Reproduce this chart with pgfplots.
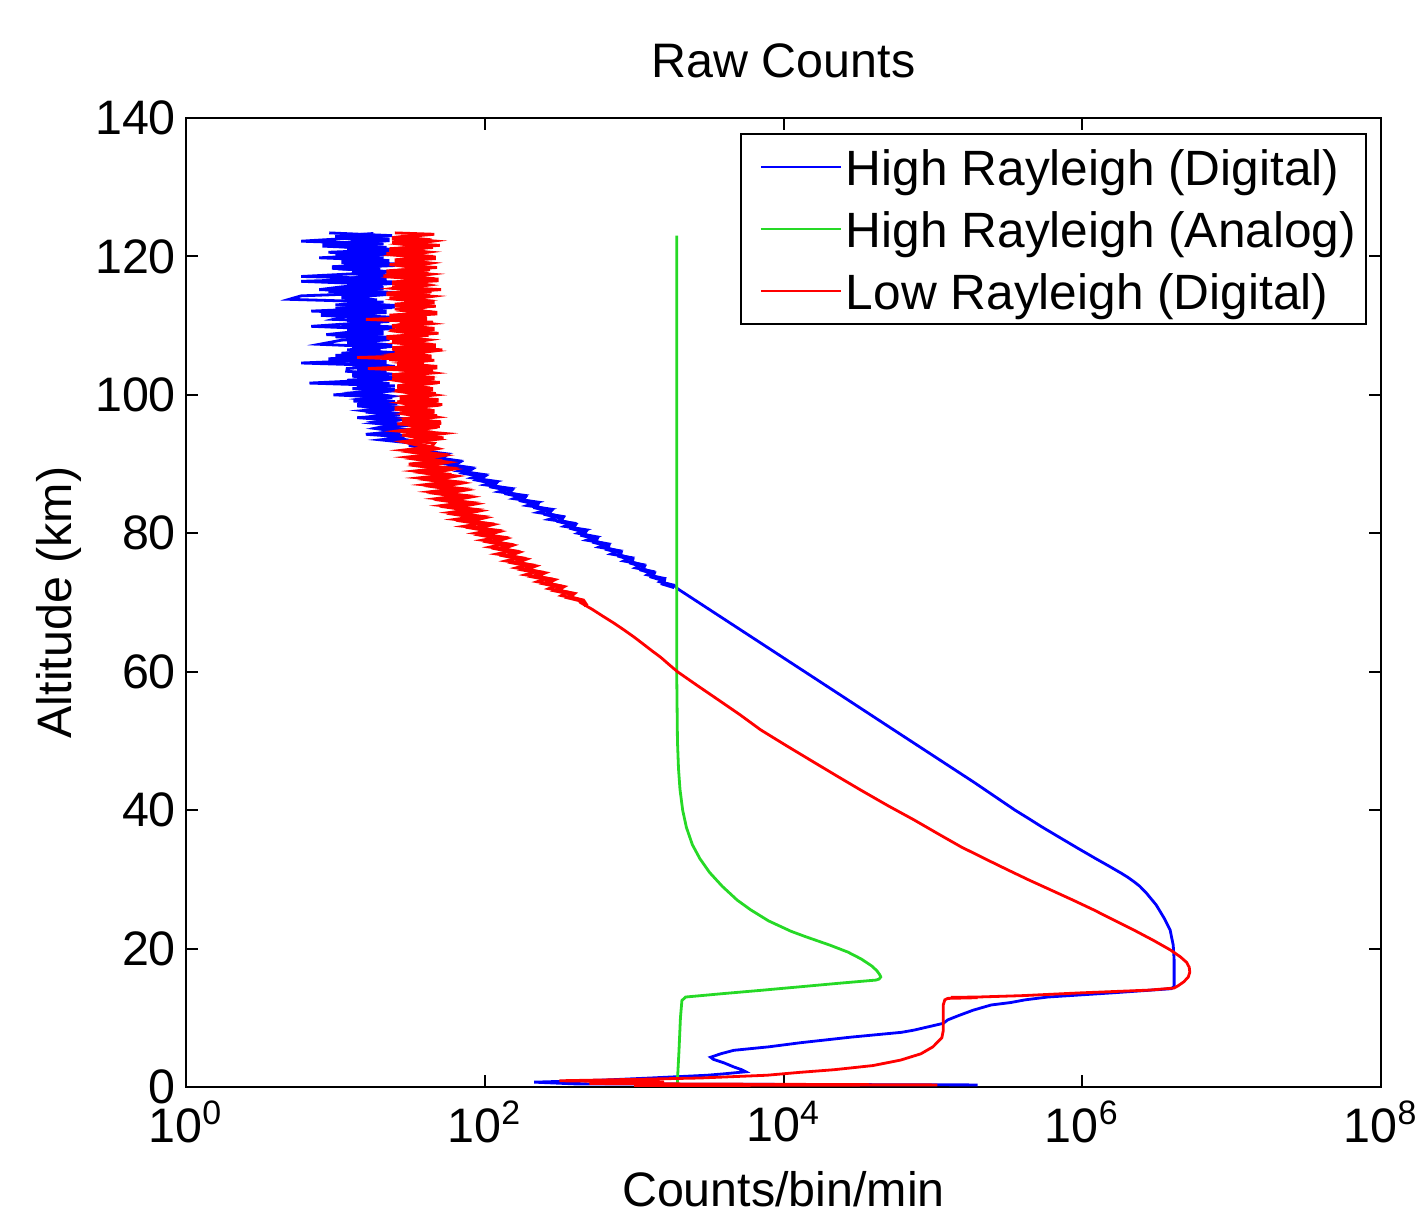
\documentclass[border=0pt]{standalone}
\usepackage{fontspec}
\setmainfont{Liberation Sans}
\usepackage{pgfplots}
\pgfplotsset{compat=1.18}
\usetikzlibrary{calc}

\definecolor{hrblue}{rgb}{0,0,1}
\definecolor{hrgreen}{rgb}{0.15,0.85,0.15}
\definecolor{lrred}{rgb}{1,0,0}
\newcommand{\fs}{\fontsize{12.1}{14.5}\selectfont}
\newcommand{\lfs}{\fontsize{12.4}{14.8}\selectfont}

\begin{document}
\begin{tikzpicture}
\begin{axis}[
    scale only axis,
    width=298.75pt, height=242.25pt,
    xmode=log,
    xmin=1, xmax=1e8, ymin=0, ymax=140,
    xtick={1,1e2,1e4,1e6,1e8},
    xticklabels={10\textsuperscript{0},10\textsuperscript{2},10\textsuperscript{4},10\textsuperscript{6},10\textsuperscript{8}},
    xminorticks=false,
    ytick={0,20,...,140},
    /pgf/number format/assume math mode=true,
    tick align=inside,
    major tick length=3pt,
    every tick/.style={black, line width=0.5pt},
    axis line style={line width=0.5pt},
    tick label style={font=\fs},
    yticklabel style={xshift=1pt},
    title={Raw Counts},
    title style={font=\fs, at={(axis description cs:0.5,1.0165)}, anchor=base},
    xlabel={Counts/bin/min},
    xlabel style={font=\fs, at={(axis description cs:0.5,-0.1238)}, anchor=base},
    ylabel={Altitude (km)},
    ylabel style={font=\fs, at={(axis description cs:-0.0954,0.5)}, anchor=base},
    legend style={at={(1,1)}, anchor=north east, xshift=-3.5pt, yshift=-3.75pt,
        font=\lfs, draw=black, line width=0.5pt, inner xsep=1.5pt, inner ysep=0.5pt,
        nodes={inner sep=1pt, text height=11.5pt, text depth=2pt},
        cells={anchor=west}},
    legend image code/.code={\path (0pt,0pt); \draw[#1, line width=0.5pt] (3.25pt,0pt) -- (23.25pt,0pt);},
    no markers,
]

% High Rayleigh (Digital): counts, altitude (km)
\addplot[hrblue, line width=0.7pt] table {
c a
9.1 123.4
24 123.0
12 122.6
5.9 122.2
21 121.8
11 121.4
25 121.0
9.0 120.6
19 120.2
7.8 119.8
23 119.4
12 119.0
20 118.6
10.5 118.2
24 117.8
11 117.4
5.9 117.1
22 116.8
5.9 116.4
18 116.0
11 115.6
7.8 115.2
25 114.8
5.9 114.3
4.9 113.8
21 113.4
10 113.0
24 112.6
6.9 112.1
19 111.8
12 111.4
9.7 110.9
23 110.6
11 110.2
6.9 109.9
20 109.5
13 109.1
8.7 108.7
24 108.3
11 107.9
7.8 107.3
22 106.9
12 106.5
25 106.1
10 105.7
19 105.3
13 104.9
5.9 104.6
23 104.2
12 103.8
11.9 103.4
24 103.0
14 102.6
21 102.2
6.7 101.7
25 101.3
13 100.9
22 100.5
9.7 100.0
24 99.6
13.2 99.1
26 98.7
15 98.3
23 97.9
16 97.5
27 97.1
14 96.7
25 96.3
18 95.9
28 95.5
19 95.1
26 94.7
16 94.3
29 93.9
20 93.5
30 93.1
38 92.5
36 92.0
55 91.5
45 91.0
66 90.5
55 90.0
80 89.5
67 89.0
98 88.5
82 88.0
120 87.5
100 87.0
148 86.5
124 86.0
182 85.5
156 85.0
228 84.5
192 84.0
275 83.5
226 83.0
318 82.5
268 82.0
385 81.5
340 81.0
480 80.5
420 80.0
560 79.5
480 79.0
660 78.5
580 78.0
790 77.5
700 77.0
950 76.5
850 76.0
1130 75.5
1020 75.0
1320 74.5
1220 74.0
1580 73.5
1480 73.0
1850 72.5
1950 72.0
2704 70.0
3750 68.0
5200 66.0
7211 64.0
10000 62.0
13870 60.0
26670 56.0
51170 52.0
98400 48.0
189200 44.0
354800 40.0
436500 38.8
534600 37.6
699800 36.1
933300 34.5
1230000 33.0
1514000 31.9
1820000 30.9
2018000 30.3
2239000 29.6
2427000 29.0
2692000 28.0
3126000 26.3
3532000 24.4
3873000 22.7
4064000 20.5
4121000 18.4
4121000 14.5
3936000 14.2
1585000 13.6
588800 13.0
416900 12.6
331100 12.2
245500 11.85
186200 11.1
147900 10.3
125900 9.7
117500 9.2
74130 8.2
61660 7.9
28180 7.2
13030 6.4
7943 5.8
4645 5.3
3802 4.8
3251 4.3
3388 4.0
3981 3.5
4645 2.9
5248 2.5
5585 2.2
3981 1.9
3090 1.7
1288 1.3
631 1.0
214 0.7
398 0.45
199500 0.3
};
\addlegendentry{High Rayleigh (Digital)}

% High Rayleigh (Digital): interleaved altitude bins of the noisy part
\addplot[hrblue, line width=1.1pt, forget plot] table {
c a
18 123.2
10 122.8
23 122.4
13 122.0
8.2 121.6
22 121.2
12 120.8
24 120.4
10 120.0
21 119.6
11 119.2
25 118.8
9.5 118.4
20 118.0
13 117.6
23 117.2
10 116.6
24 116.2
12 115.8
21 115.4
9 115.0
22 114.6
11 114.1
19 113.6
12 113.2
25 112.8
10 112.4
22 112.0
8 111.6
24 111.1
12 110.8
20 110.4
11 110.0
25 109.7
12 109.3
21 108.9
10 108.5
23 108.1
12 107.6
24 107.1
13 106.7
20 106.3
11 105.9
24 105.5
9 105.1
22 104.7
13 104.4
25 104.0
14 103.6
22 103.2
13 102.8
26 102.4
12 102.0
23 101.5
14 101.1
25 100.7
15 100.3
22 99.8
16 99.4
25 98.9
14 98.5
27 98.1
17 97.7
24 97.3
19 96.9
27 96.5
20 96.1
26 95.7
21 95.3
29 94.9
22 94.5
27 94.1
24 93.7
32 93.3
32 92.75
44 92.25
40 91.75
54 91.25
50 90.75
66 90.25
60 89.75
80 89.25
73 88.75
98 88.25
90 87.75
118 87.25
113 86.75
150 86.25
143 85.75
185 85.25
178 84.75
225 84.25
220 83.75
275 83.25
262 82.75
330 82.25
318 81.75
400 81.25
385 80.75
470 80.25
455 79.75
560 79.25
545 78.75
670 78.25
660 77.75
810 77.25
800 76.75
970 76.25
960 75.75
1160 75.25
1130 74.75
1350 74.25
1320 73.75
1580 73.25
1560 72.75
1860 72.25
};

% High Rayleigh (Analog)
\addplot[hrgreen, line width=0.7pt] table {
c a
1928 123.0
1928 100.0
1928 80.0
1928 60.0
1950 50.0
1982 46.0
2028 43.0
2113 40.0
2239 37.5
2455 35.0
2754 33.0
3199 31.0
3890 29.0
4898 27.0
6026 25.6
7943 24.0
11220 22.5
14130 21.7
20420 20.5
26920 19.5
33110 18.5
38900 17.5
42170 16.8
44160 16.2
44770 15.9
43650 15.6
41690 15.45
23820 15.0
13240 14.5
7362 14.0
3972 13.5
2213 13.0
2089 12.5
2042 10.0
1995 5.0
1950 1.0
1950 0.0
};
\addlegendentry{High Rayleigh (Analog)}

% Low Rayleigh (Digital)
\addplot[lrred, line width=0.7pt] table {
c a
25 123.4
46 123.2
28 122.8
44 122.4
24 122.0
50 121.6
27 121.2
40 120.8
22 120.4
45 120.0
30 119.6
38 119.2
23 118.8
48 118.4
26 118.0
42 117.6
21 117.2
46 116.8
29 116.4
39 116.0
24 115.6
51 115.2
27 114.8
43 114.4
23 114.0
40 113.6
30 113.2
47 112.8
25 112.4
44 112.0
28 111.6
38 111.2
16 110.9
45 110.5
26 110.1
41 109.7
23 109.3
49 108.9
28 108.5
37 108.1
24 107.7
44 107.3
27 106.9
52 106.5
25 106.1
40 105.7
14 105.4
46 105.0
29 104.6
42 104.2
16.5 103.8
45 103.4
27 103.0
39 102.6
24 102.2
50 101.8
28 101.4
43 101.0
25 100.6
47 100.2
30 99.8
41 99.4
26 99.0
52 98.6
29 98.2
44 97.8
27 97.4
48 97.0
31 96.6
42 96.2
26 95.8
50 95.4
30 95.0
45 94.6
28 94.2
53 93.8
31 93.4
46 93.0
44 92.5
28 92.0
48 91.5
30 91.0
52 90.5
31 90.0
55 89.5
34 89.0
60 88.5
36 88.0
62 87.5
39 87.0
68 86.5
43 86.0
72 85.5
47 85.0
78 84.5
51 84.0
84 83.5
58 83.0
92 82.5
63 82.0
100 81.5
72 81.0
115 80.5
86 80.0
128 79.5
96 79.0
140 78.5
108 78.0
155 77.5
120 77.0
172 76.5
138 76.0
198 75.5
162 75.0
225 74.5
186 74.0
262 73.5
224 73.0
305 72.5
268 72.0
358 71.5
325 71.0
420 70.5
437 70.0
525 69.0
620 68.0
735 67.0
860 66.0
1000 65.0
1150 64.0
1320 63.0
1503 62.1
1720 61.0
1950 60.0
2650 58.0
3681 55.9
5100 53.8
7031 51.6
10300 49.4
15210 47.2
22500 45.0
32890 42.9
49500 40.7
74650 38.6
108000 36.6
154200 34.7
222000 33.0
318400 31.35
440000 29.9
616600 28.46
867000 27.0
1190000 25.6
1633000 24.1
2250000 22.6
2985000 21.2
3890000 19.8
4539000 18.8
5000000 18.0
5200000 17.3
5248000 16.6
5129000 15.9
4786300 15.2
4365000 14.6
4121000 14.3
2818000 14.0
977200 13.6
398100 13.2
199500 13.0
131800 12.95
199500 12.9
125900 12.8
120200 12.6
117500 11.9
117500 10.0
117500 8.2
114800 7.1
100000 5.8
83180 4.8
61090 3.9
39810 3.1
21880 2.5
12590 2.1
7762 1.7
2754 1.3
1000 1.1
316 0.9
1585 0.7
501 0.5
107200 0.3
1000 0.2
};
\addlegendentry{Low Rayleigh (Digital)}

% Low Rayleigh (Digital): interleaved altitude bins of the noisy part
\addplot[lrred, line width=1.1pt, forget plot] table {
c a
35 123.0
24 122.6
41 122.2
30 121.8
45 121.4
23 121.0
38 120.6
28 120.2
47 119.8
25 119.4
40 119.0
31 118.6
43 118.2
22 117.8
39 117.4
28 117.0
49 116.6
24 116.2
37 115.8
27 115.4
44 115.0
22 114.6
40 114.2
29 113.8
46 113.4
25 113.0
37 112.6
31 112.2
48 111.8
23 111.4
41 111.0
27 110.7
39 110.3
24 109.9
46 109.5
30 109.1
42 108.7
22 108.3
38 107.9
29 107.5
47 107.1
24 106.7
40 106.3
28 105.9
44 105.5
23 105.2
39 104.8
26 104.4
48 104.0
30 103.6
41 103.2
24 102.8
46 102.4
29 102.0
38 101.6
26 101.2
45 100.8
31 100.4
42 100.0
27 99.6
49 99.2
30 98.8
39 98.4
25 98.0
46 97.6
32 97.2
43 96.8
28 96.4
51 96.0
33 95.6
40 95.2
29 94.8
48 94.4
34 94.0
44 93.6
30 93.2
37 92.75
46 92.25
34 91.75
50 91.25
36 90.75
53 90.25
38 89.75
57 89.25
41 88.75
60 88.25
44 87.75
66 87.25
48 86.75
70 86.25
51 85.75
76 85.25
56 84.75
82 84.25
61 83.75
88 83.25
67 82.75
96 82.25
76 81.75
108 81.25
87 80.75
120 80.25
98 79.75
133 79.25
111 78.75
148 78.25
126 77.75
164 77.25
141 76.75
184 76.25
160 75.75
212 75.25
185 74.75
245 74.25
215 73.75
285 73.25
255 72.75
330 72.25
300 71.75
390 71.25
365 70.75
455 70.25
480 69.5
};

\coordinate (bl) at (rel axis cs:0,0);
\coordinate (tr) at (rel axis cs:1,1);
\end{axis}
\pgfresetboundingbox
\path[use as bounding box] ($(bl)+(-46.5pt,-32.25pt)$) rectangle ($(tr)+(9.5pt,29.5pt)$);
\end{tikzpicture}
\end{document}
